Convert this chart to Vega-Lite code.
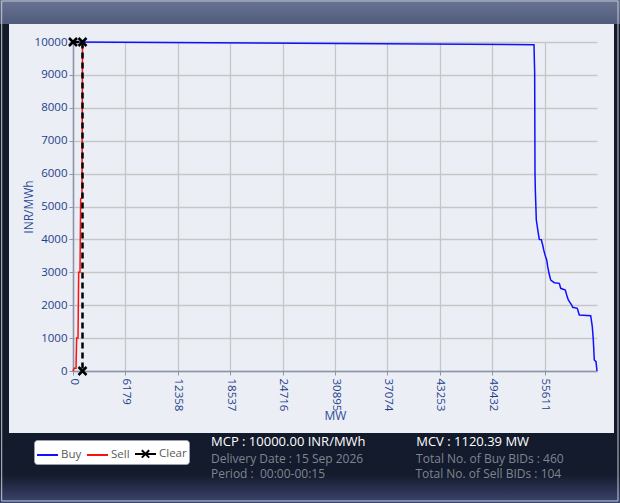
{
  "$schema": "https://vega.github.io/schema/vega-lite/v6.json",
  "autosize": {"type": "none"},
  "width": 524,
  "height": 329,
  "padding": {"left": 73, "top": 42, "right": 23, "bottom": 132},
  "background": "#ebeff5",
  "config": {
    "font": "Open Sans",
    "view": {"stroke": null, "fill": null},
    "axis": {
      "grid": true,
      "labelColor": "#1f3d8c",
      "titleColor": "#2a4a96",
      "labelFont": "Open Sans",
      "titleFont": "Open Sans",
      "labelFontSize": 11.5,
      "titleFontSize": 12,
      "titleFontWeight": "normal",
      "gridColor": "#c6c6c6",
      "gridWidth": 1.3,
      "domainColor": "#8a95ad",
      "domainWidth": 1.5,
      "tickColor": "#8a95ad",
      "tickSize": 4
    },
    "axisY": {"tickCount": 12, "labelOverlap": false},
    "axisX": {"tickCount": 12}
  },
  "title": {
    "text": "MCP : 10000.00 INR/MWh\u00a0\u00a0\u00a0\u00a0\u00a0\u00a0\u00a0\u00a0\u00a0\u00a0\u00a0\u00a0\u00a0\u00a0\u00a0MCV : 1120.39 MW",
    "subtitle": [
      "Delivery Date : 15 Sep 2026\u00a0\u00a0\u00a0\u00a0\u00a0\u00a0\u00a0\u00a0\u00a0\u00a0\u00a0\u00a0\u00a0\u00a0\u00a0\u00a0\u00a0Total No. of Buy BIDs : 460",
      "Period : \u00a000:00-00:15\u00a0\u00a0\u00a0\u00a0\u00a0\u00a0\u00a0\u00a0\u00a0\u00a0\u00a0\u00a0\u00a0\u00a0\u00a0\u00a0\u00a0\u00a0\u00a0\u00a0\u00a0\u00a0\u00a0\u00a0\u00a0\u00a0\u00a0\u00a0\u00a0Total No. of Sell BIDs : 104"
    ],
    "orient": "bottom",
    "anchor": "start",
    "frame": "group",
    "dx": 138,
    "offset": -67,
    "zindex": 1,
    "font": "Open Sans",
    "fontSize": 13,
    "fontWeight": "normal",
    "color": "#ffffff",
    "subtitleFont": "Open Sans",
    "subtitleFontSize": 12,
    "subtitleColor": "#7f8592",
    "subtitlePadding": 5,
    "subtitleLineHeight": 15
  },
  "datasets": {
    "curves": [
      {"series": "Buy", "i": 0, "mw": 0, "price": 10000},
      {"series": "Buy", "i": 1, "mw": 54361, "price": 9920},
      {"series": "Buy", "i": 2, "mw": 54440, "price": 9050},
      {"series": "Buy", "i": 3, "mw": 54479, "price": 6010},
      {"series": "Buy", "i": 4, "mw": 54518, "price": 5500},
      {"series": "Buy", "i": 5, "mw": 54597, "price": 4890},
      {"series": "Buy", "i": 6, "mw": 54633, "price": 4590},
      {"series": "Buy", "i": 7, "mw": 54869, "price": 4185},
      {"series": "Buy", "i": 8, "mw": 54987, "price": 4000},
      {"series": "Buy", "i": 9, "mw": 55223, "price": 3990},
      {"series": "Buy", "i": 10, "mw": 55387, "price": 3830},
      {"series": "Buy", "i": 11, "mw": 55505, "price": 3680},
      {"series": "Buy", "i": 12, "mw": 55658, "price": 3530},
      {"series": "Buy", "i": 13, "mw": 55859, "price": 3375},
      {"series": "Buy", "i": 14, "mw": 55977, "price": 3170},
      {"series": "Buy", "i": 15, "mw": 56130, "price": 2970},
      {"series": "Buy", "i": 16, "mw": 56330, "price": 2766},
      {"series": "Buy", "i": 17, "mw": 56755, "price": 2685},
      {"series": "Buy", "i": 18, "mw": 57345, "price": 2665},
      {"series": "Buy", "i": 19, "mw": 57511, "price": 2513},
      {"series": "Buy", "i": 20, "mw": 58053, "price": 2462},
      {"series": "Buy", "i": 21, "mw": 58216, "price": 2310},
      {"series": "Buy", "i": 22, "mw": 58406, "price": 2158},
      {"series": "Buy", "i": 23, "mw": 58807, "price": 2006},
      {"series": "Buy", "i": 24, "mw": 58925, "price": 1935},
      {"series": "Buy", "i": 25, "mw": 59467, "price": 1905},
      {"series": "Buy", "i": 26, "mw": 59703, "price": 1702},
      {"series": "Buy", "i": 27, "mw": 61047, "price": 1681},
      {"series": "Buy", "i": 28, "mw": 61236, "price": 1347},
      {"series": "Buy", "i": 29, "mw": 61354, "price": 942},
      {"series": "Buy", "i": 30, "mw": 61472, "price": 334},
      {"series": "Buy", "i": 31, "mw": 61672, "price": 284},
      {"series": "Buy", "i": 32, "mw": 61790, "price": 0},
      {"series": "Sell", "i": 0, "mw": 0, "price": 0},
      {"series": "Sell", "i": 1, "mw": 118, "price": 80},
      {"series": "Sell", "i": 2, "mw": 354, "price": 80},
      {"series": "Sell", "i": 3, "mw": 432, "price": 1000},
      {"series": "Sell", "i": 4, "mw": 590, "price": 1000},
      {"series": "Sell", "i": 5, "mw": 668, "price": 3000},
      {"series": "Sell", "i": 6, "mw": 825, "price": 3000},
      {"series": "Sell", "i": 7, "mw": 904, "price": 5230},
      {"series": "Sell", "i": 8, "mw": 1061, "price": 5260},
      {"series": "Sell", "i": 9, "mw": 1120.39, "price": 10000},
      {"series": "Clear", "i": 0, "mw": 0, "price": 10000},
      {"series": "Clear", "i": 1, "mw": 1120.39, "price": 10000},
      {"series": "Clear", "i": 2, "mw": 1120.39, "price": 0}
    ],
    "one": [{}]
  },
  "data": {"name": "curves"},
  "layer": [
    {
      "data": {"name": "one"},
      "mark": {
        "type": "rect",
        "clip": false,
        "fill": {
          "gradient": "linear", "x1": 0, "y1": 0, "x2": 0, "y2": 1,
          "stops": [
            {"offset": 0, "color": "#6a7594"},
            {"offset": 1, "color": "#505a7a"}
          ]
        }
      },
      "encoding": {
        "x": {
          "datum": -8608, "type": "quantitative",
          "scale": {"domain": [0, 61790], "nice": false},
          "axis": {
            "title": "MW",
            "grid": true,
            "values": [0, 6179, 12358, 18537, 24716, 30895, 37074, 43253, 49432, 55611],
            "tickCount": 12,
            "format": "d",
            "labelAngle": 90,
            "labelPadding": 3,
            "titlePadding": 0
          }
        },
        "x2": {"datum": 64502},
        "y": {
          "datum": 11277, "type": "quantitative",
          "scale": {"domain": [0, 10000], "nice": false},
          "axis": {
            "title": "INR/MWh",
            "grid": true,
            "values": [0, 1000, 2000, 3000, 4000, 5000, 6000, 7000, 8000, 9000, 10000],
            "tickCount": 12,
            "format": "d",
            "labelOverlap": false,
            "labelPadding": 2,
            "titlePadding": -1
          }
        },
        "y2": {"datum": 10547}
      }
    },
    {
      "data": {"name": "one"},
      "mark": {"type": "rect", "clip": false, "fill": "#131a2b"},
      "encoding": {
        "x": {"datum": -8608, "type": "quantitative"},
        "x2": {"datum": -7547},
        "y": {"datum": 10547, "type": "quantitative"},
        "y2": {"datum": -1884}
      }
    },
    {
      "data": {"name": "one"},
      "mark": {"type": "rect", "clip": false, "fill": "#131a2b"},
      "encoding": {
        "x": {"datum": 63795, "type": "quantitative"},
        "x2": {"datum": 64502},
        "y": {"datum": 10547, "type": "quantitative"},
        "y2": {"datum": -1884}
      }
    },
    {
      "data": {"name": "one"},
      "mark": {
        "type": "rect",
        "clip": false,
        "fill": {
          "gradient": "linear", "x1": 0, "y1": 0, "x2": 0, "y2": 1,
          "stops": [
            {"offset": 0, "color": "#131a2b"},
            {"offset": 0.6, "color": "#141b2d"},
            {"offset": 1, "color": "#3c4670"}
          ]
        }
      },
      "encoding": {
        "x": {"datum": -8608, "type": "quantitative"},
        "x2": {"datum": 64502},
        "y": {"datum": -1884, "type": "quantitative"},
        "y2": {"datum": -4012}
      }
    },
    {
      "data": {"name": "one"},
      "mark": {"type": "rect", "fill": null, "stroke": "#c4c8d0", "strokeWidth": 1, "clip": false},
      "encoding": {
        "x": {"datum": -8408, "type": "quantitative"},
        "x2": {"datum": 64266},
        "y": {"datum": 11246, "type": "quantitative"},
        "y2": {"datum": -3951}
      }
    },
    {
      "transform": [{"filter": "datum.series !== 'Clear'"}],
      "mark": {"type": "line", "strokeWidth": 1.5},
      "encoding": {
        "x": {"field": "mw", "type": "quantitative"},
        "y": {"field": "price", "type": "quantitative"},
        "order": {"field": "i"},
        "color": {
          "field": "series", "type": "nominal",
          "scale": {"domain": ["Buy", "Sell", "Clear"], "range": ["#1010ff", "#ff1010", "#000000"]},
          "legend": {
            "title": null,
            "orient": "none",
            "legendX": -39,
            "legendY": 398,
            "zindex": 1,
            "direction": "horizontal",
            "fillColor": "#ffffff",
            "strokeColor": "#9aa0aa",
            "cornerRadius": 3,
            "padding": 2,
            "columnPadding": 1,
            "labelOffset": 2,
            "labelFont": "Open Sans",
            "labelFontSize": 11.5,
            "labelColor": "#5a5a5a",
            "symbolSize": 441,
            "symbolStrokeWidth": 2,
            "symbolOpacity": 1
          }
        }
      }
    },
    {
      "transform": [{"filter": "datum.series === 'Clear'"}],
      "mark": {"type": "line", "strokeWidth": 2.5, "strokeDash": [6, 4]},
      "encoding": {
        "x": {"field": "mw", "type": "quantitative"},
        "y": {"field": "price", "type": "quantitative"},
        "order": {"field": "i"},
        "color": {"field": "series", "type": "nominal"}
      }
    },
    {
      "transform": [{"filter": "datum.series === 'Clear'"}],
      "mark": {
        "type": "point",
        "shape": "M-1,-1L1,1M-1,1L1,-1",
        "size": 64,
        "filled": false,
        "stroke": "#000000",
        "strokeWidth": 2.5,
        "opacity": 1
      },
      "encoding": {
        "x": {"field": "mw", "type": "quantitative"},
        "y": {"field": "price", "type": "quantitative"}
      }
    },
    {
      "data": {"values": []},
      "mark": {"type": "point", "filled": false, "strokeWidth": 2, "opacity": 1},
      "encoding": {
        "x": {"field": "mw", "type": "quantitative"},
        "y": {"field": "price", "type": "quantitative"},
        "color": {"field": "series", "type": "nominal"},
        "shape": {
          "field": "series", "type": "nominal",
          "scale": {
            "domain": ["Buy", "Sell", "Clear"],
            "range": ["stroke", "stroke", "M-1,0L1,0M-0.35,-0.35L0.35,0.35M-0.35,0.35L0.35,-0.35"]
          },
          "legend": {
            "title": null,
            "orient": "none",
            "legendX": -39,
            "legendY": 398,
            "zindex": 1,
            "direction": "horizontal",
            "fillColor": "#ffffff",
            "strokeColor": "#9aa0aa",
            "cornerRadius": 3,
            "padding": 2,
            "columnPadding": 1,
            "labelOffset": 2,
            "labelFont": "Open Sans",
            "labelFontSize": 11.5,
            "labelColor": "#5a5a5a",
            "symbolSize": 441,
            "symbolStrokeWidth": 2,
            "symbolOpacity": 1
          }
        }
      }
    }
  ]
}
